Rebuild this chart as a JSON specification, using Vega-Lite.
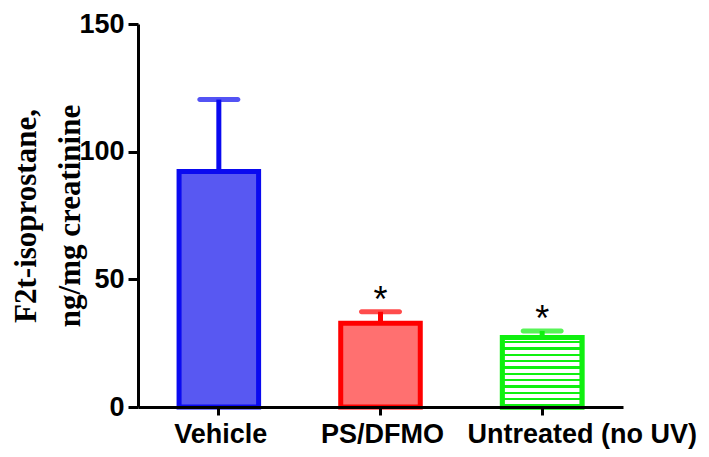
{
  "$schema": "https://vega.github.io/schema/vega-lite/v6.json",
  "width": 485,
  "height": 383,
  "autosize": {"type": "none"},
  "padding": {"left": 138, "top": 24, "right": 86, "bottom": 50},
  "background": "white",
  "config": {"view": {"stroke": null}},
  "data": {
    "values": [
      {"group": "Vehicle", "value": 92.2, "upper": 120.4, "sig": ""},
      {"group": "PS/DFMO", "value": 32.8, "upper": 37.3, "sig": "*"},
      {"group": "Untreated (no UV)", "value": 27.2, "upper": 29.8, "sig": "*"}
    ]
  },
  "encoding": {
    "x": {
      "field": "group",
      "type": "nominal",
      "sort": ["Vehicle", "PS/DFMO", "Untreated (no UV)"],
      "scale": {"paddingInner": 0.508, "paddingOuter": 0.254},
      "axis": {
        "title": null,
        "labelAngle": 0,
        "labelLimit": 0,
        "labelFont": "Liberation Sans",
        "labelFontWeight": "bold",
        "labelFontSize": 27,
        "labelColor": "black",
        "labelPadding": 6,
        "labelOffset": {"condition": {"test": "datum.value === 'Untreated (no UV)'", "value": 40}, "value": 2},
        "tickSize": 8,
        "tickWidth": 3,
        "tickColor": "black",
        "domainWidth": 3,
        "domainColor": "black",
        "zindex": 1
      }
    }
  },
  "layer": [
    {
      "mark": {"type": "rule", "strokeWidth": 5},
      "encoding": {
        "y": {"field": "value", "type": "quantitative"},
        "y2": {"field": "upper"},
        "stroke": {
          "field": "group",
          "type": "nominal",
          "scale": {"domain": ["Vehicle", "PS/DFMO", "Untreated (no UV)"], "range": ["#0a0af0", "#ff0000", "#10f010"]},
          "legend": null
        }
      }
    },
    {
      "mark": {"type": "tick", "size": 43, "thickness": 5, "cornerRadius": 2.5},
      "encoding": {
        "y": {"field": "upper", "type": "quantitative"},
        "color": {
          "field": "group",
          "type": "nominal",
          "scale": {"domain": ["Vehicle", "PS/DFMO", "Untreated (no UV)"], "range": ["#0a0af0", "#ff0000", "#10f010"]},
          "legend": null
        }
      }
    },
    {
      "mark": {"type": "bar", "strokeWidth": 5},
      "encoding": {
        "y": {
          "field": "value",
          "type": "quantitative",
          "scale": {"domain": [0, 150], "nice": false},
          "axis": {
            "values": [0, 50, 100, 150],
            "grid": false,
            "title": ["F2t-isoprostane,", "ng/mg creatinine"],
            "titleFont": "Liberation Serif",
            "titleFontWeight": "bold",
            "titleFontSize": 31,
            "titleLineHeight": 44,
            "titleColor": "black",
            "titleAngle": -90,
            "titleAlign": "center",
            "titleBaseline": "middle",
            "titleX": -112,
            "titleY": 191.5,
            "labelFont": "Liberation Sans",
            "labelFontWeight": "bold",
            "labelFontSize": 27,
            "labelColor": "black",
            "labelPadding": 4,
            "tickSize": 10,
            "tickWidth": 3,
            "tickColor": "black",
            "domainWidth": 3,
            "domainColor": "black",
            "zindex": 1
          }
        },
        "fill": {
          "field": "group",
          "type": "nominal",
          "scale": {"domain": ["Vehicle", "PS/DFMO", "Untreated (no UV)"], "range": ["#5858f2", "#ff7070", "#ffffff"]},
          "legend": null
        },
        "stroke": {
          "field": "group",
          "type": "nominal",
          "scale": {"domain": ["Vehicle", "PS/DFMO", "Untreated (no UV)"], "range": ["#0a0af0", "#ff0000", "#10f010"]},
          "legend": null
        }
      }
    },
    {
      "transform": [{"filter": "datum.group === 'Untreated (no UV)'"}],
      "mark": {
        "type": "bar",
        "strokeWidth": 5,
        "stroke": "#10f010",
        "fill": {
          "gradient": "linear",
          "x1": 0, "y1": 0, "x2": 0, "y2": 1,
          "stops": [
            {"offset": 0, "color": "#ffffff"},
            {"offset": 0.05, "color": "#ffffff"}, {"offset": 0.05, "color": "#10f010"}, {"offset": 0.085, "color": "#10f010"}, {"offset": 0.085, "color": "#ffffff"},
            {"offset": 0.1409, "color": "#ffffff"}, {"offset": 0.1409, "color": "#10f010"}, {"offset": 0.1759, "color": "#10f010"}, {"offset": 0.1759, "color": "#ffffff"},
            {"offset": 0.2318, "color": "#ffffff"}, {"offset": 0.2318, "color": "#10f010"}, {"offset": 0.2668, "color": "#10f010"}, {"offset": 0.2668, "color": "#ffffff"},
            {"offset": 0.3227, "color": "#ffffff"}, {"offset": 0.3227, "color": "#10f010"}, {"offset": 0.3577, "color": "#10f010"}, {"offset": 0.3577, "color": "#ffffff"},
            {"offset": 0.4136, "color": "#ffffff"}, {"offset": 0.4136, "color": "#10f010"}, {"offset": 0.4486, "color": "#10f010"}, {"offset": 0.4486, "color": "#ffffff"},
            {"offset": 0.5045, "color": "#ffffff"}, {"offset": 0.5045, "color": "#10f010"}, {"offset": 0.5395, "color": "#10f010"}, {"offset": 0.5395, "color": "#ffffff"},
            {"offset": 0.5955, "color": "#ffffff"}, {"offset": 0.5955, "color": "#10f010"}, {"offset": 0.6305, "color": "#10f010"}, {"offset": 0.6305, "color": "#ffffff"},
            {"offset": 0.6864, "color": "#ffffff"}, {"offset": 0.6864, "color": "#10f010"}, {"offset": 0.7214, "color": "#10f010"}, {"offset": 0.7214, "color": "#ffffff"},
            {"offset": 0.7773, "color": "#ffffff"}, {"offset": 0.7773, "color": "#10f010"}, {"offset": 0.8123, "color": "#10f010"}, {"offset": 0.8123, "color": "#ffffff"},
            {"offset": 0.8682, "color": "#ffffff"}, {"offset": 0.8682, "color": "#10f010"}, {"offset": 0.9032, "color": "#10f010"}, {"offset": 0.9032, "color": "#ffffff"},
            {"offset": 0.9591, "color": "#ffffff"}, {"offset": 0.9591, "color": "#10f010"}, {"offset": 0.9941, "color": "#10f010"}, {"offset": 0.9941, "color": "#ffffff"},
            {"offset": 1, "color": "#ffffff"}
          ]
        }
      },
      "encoding": {
        "y": {"field": "value", "type": "quantitative"}
      }
    },
    {
      "mark": {"type": "text", "font": "Liberation Sans", "fontSize": 36, "baseline": "alphabetic", "align": "center", "dy": 0, "color": "black"},
      "encoding": {
        "y": {"field": "upper", "type": "quantitative"},
        "text": {"field": "sig"}
      }
    }
  ]
}
